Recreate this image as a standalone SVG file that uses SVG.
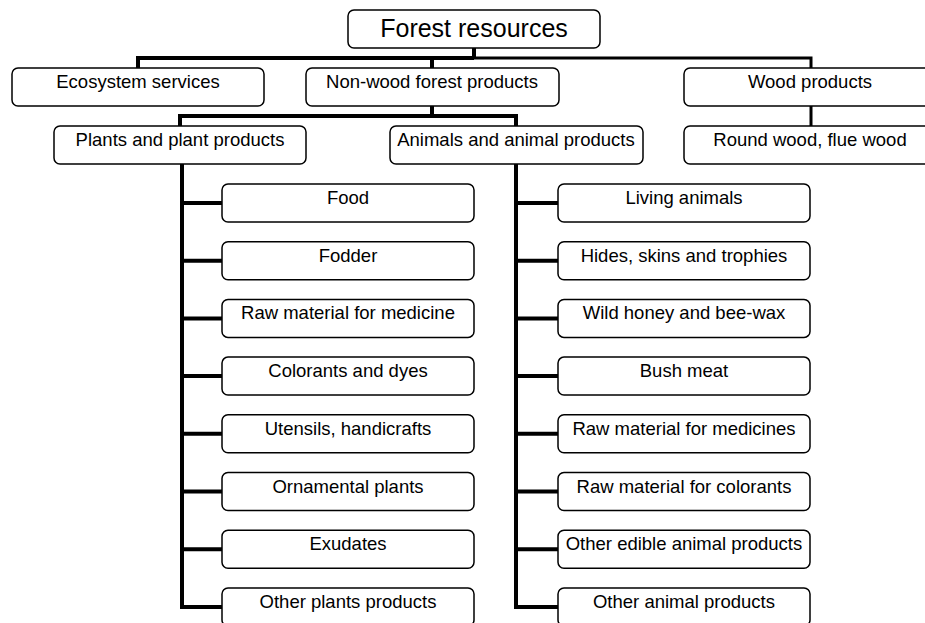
<svg xmlns="http://www.w3.org/2000/svg" width="925" height="623" viewBox="0 0 925 623">
<style>
.box{fill:#fff;stroke:#000;stroke-width:1.5}
.t{font-family:"Liberation Sans",Arial,sans-serif;font-size:18.5px;fill:#000;text-anchor:middle}
.big{font-size:25px}
.c{fill:none;stroke:#000;stroke-width:4;stroke-linecap:butt;stroke-linejoin:miter}
.c3{stroke-width:3}
</style>
<rect width="925" height="623" fill="#fff"/>
<g id="connectors">
<path class="c" d="M474 48V58M138 68V58H474M432 58V68"/>
<path class="c c3" d="M474 58H811V68M811 106V126"/>
<path class="c" d="M432 106V116M180 126V116H516V126"/>
<path class="c" d="M182 164V607H222M182 203H222M182 260.7H222M182 318.4H222M182 376.1H222M182 433.8H222M182 491.5H222M182 549.2H222"/>
<path class="c" d="M516 164V607H558M516 203H558M516 260.7H558M516 318.4H558M516 376.1H558M516 433.8H558M516 491.5H558M516 549.2H558"/>
</g>
<g id="n-forest"><rect class="box" x="348" y="10" width="252" height="38" rx="6"/><text class="t big" x="474" y="37">Forest resources</text></g>
<g id="n-eco"><rect class="box" x="12" y="68" width="252" height="38" rx="6"/><text class="t" x="138" y="88">Ecosystem services</text></g>
<g id="n-nonwood"><rect class="box" x="306" y="68" width="253" height="38" rx="6"/><text class="t" x="432" y="88">Non-wood forest products</text></g>
<g id="n-wood"><rect class="box" x="684" y="68" width="252" height="38" rx="6"/><text class="t" x="810" y="88">Wood products</text></g>
<g id="n-plants"><rect class="box" x="54" y="126" width="252" height="38" rx="6"/><text class="t" x="180" y="146">Plants and plant products</text></g>
<g id="n-animals"><rect class="box" x="390" y="126" width="253" height="38" rx="6"/><text class="t" x="516" y="146">Animals and animal products</text></g>
<g id="n-round"><rect class="box" x="684" y="126" width="252" height="38" rx="6"/><text class="t" x="810" y="146">Round wood, flue wood</text></g>
<g id="p1"><rect class="box" x="222" y="184" width="252" height="38" rx="6"/><text class="t" x="348" y="204">Food</text></g>
<g id="p2"><rect class="box" x="222" y="241.7" width="252" height="38" rx="6"/><text class="t" x="348" y="261.7">Fodder</text></g>
<g id="p3"><rect class="box" x="222" y="299.4" width="252" height="38" rx="6"/><text class="t" x="348" y="319.4">Raw material for medicine</text></g>
<g id="p4"><rect class="box" x="222" y="357.1" width="252" height="38" rx="6"/><text class="t" x="348" y="377.1">Colorants and dyes</text></g>
<g id="p5"><rect class="box" x="222" y="414.8" width="252" height="38" rx="6"/><text class="t" x="348" y="434.8">Utensils, handicrafts</text></g>
<g id="p6"><rect class="box" x="222" y="472.5" width="252" height="38" rx="6"/><text class="t" x="348" y="492.5">Ornamental plants</text></g>
<g id="p7"><rect class="box" x="222" y="530.2" width="252" height="38" rx="6"/><text class="t" x="348" y="550.2">Exudates</text></g>
<g id="p8"><rect class="box" x="222" y="587.9" width="252" height="38" rx="6"/><text class="t" x="348" y="607.9">Other plants products</text></g>
<g id="a1"><rect class="box" x="558" y="184" width="252" height="38" rx="6"/><text class="t" x="684" y="204">Living animals</text></g>
<g id="a2"><rect class="box" x="558" y="241.7" width="252" height="38" rx="6"/><text class="t" x="684" y="261.7">Hides, skins and trophies</text></g>
<g id="a3"><rect class="box" x="558" y="299.4" width="252" height="38" rx="6"/><text class="t" x="684" y="319.4">Wild honey and bee-wax</text></g>
<g id="a4"><rect class="box" x="558" y="357.1" width="252" height="38" rx="6"/><text class="t" x="684" y="377.1">Bush meat</text></g>
<g id="a5"><rect class="box" x="558" y="414.8" width="252" height="38" rx="6"/><text class="t" x="684" y="434.8">Raw material for medicines</text></g>
<g id="a6"><rect class="box" x="558" y="472.5" width="252" height="38" rx="6"/><text class="t" x="684" y="492.5">Raw material for colorants</text></g>
<g id="a7"><rect class="box" x="558" y="530.2" width="252" height="38" rx="6"/><text class="t" x="684" y="550.2">Other edible animal products</text></g>
<g id="a8"><rect class="box" x="558" y="587.9" width="252" height="38" rx="6"/><text class="t" x="684" y="607.9">Other animal products</text></g>
</svg>
